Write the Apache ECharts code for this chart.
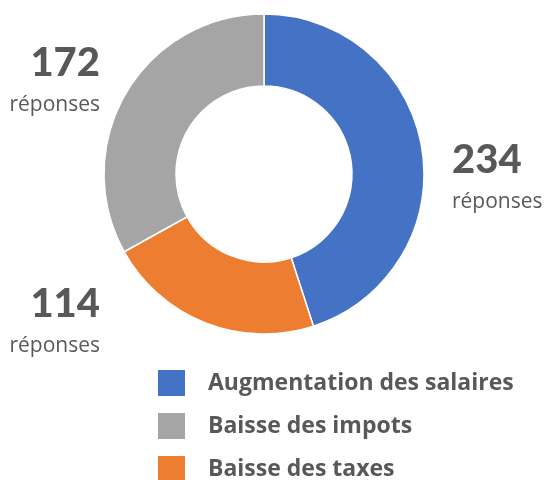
<!DOCTYPE html>
<html>
<head>
<meta charset="utf-8">
<script src="https://cdn.jsdelivr.net/npm/echarts@6/dist/echarts.min.js"></script>
<style>
html,body{margin:0;padding:0;background:#fff;}
#main{width:544px;height:480px;}
</style>
</head>
<body>
<div id="main"></div>
<script>
// Data
const categories = ['Augmentation des salaires', 'Baisse des taxes', 'Baisse des impots'];
const values = [234, 114, 172];
const colors = ['#4472C4', '#ED7D31', '#A5A5A5'];
const legendOrder = ['Augmentation des salaires', 'Baisse des impots', 'Baisse des taxes'];
const unitLabel = 'réponses';

const labelPos = [
  { x: 452, y: 137, align: 'left' },
  { x: 100, y: 281, align: 'right' },
  { x: 100, y: 40, align: 'right' }
];

const chart = echarts.init(document.getElementById('main'));
chart.setOption({
  animation: false,
  color: colors,
  legend: {
    orient: 'vertical',
    left: 156,
    top: 368,
    height: 200,
    padding: 0,
    itemWidth: 29,
    itemHeight: 28,
    itemGap: 13,
    icon: 'rect',
    data: legendOrder,
    textStyle: {
      fontFamily: 'Open Sans',
      fontWeight: 'bold',
      fontSize: 23,
      color: '#57585a',
      padding: [0, 0, 0, 17]
    }
  },
  series: [{
    type: 'pie',
    center: [264, 174],
    radius: [88, 160],
    startAngle: 90,
    clockwise: true,
    itemStyle: { borderColor: '#fff', borderWidth: 1.5 },
    labelLine: { show: false },
    label: {
      show: true,
      position: 'outside',
      overflow: 'none',
      formatter: function (p) { return '{v|' + p.value + '}\n{r|' + unitLabel + '}'; },
      rich: {
        v: { fontFamily: 'Lato', fontWeight: 900, fontSize: 40, lineHeight: 46, color: '#57585a' },
        r: { fontFamily: 'Open Sans', fontSize: 21, lineHeight: 38, color: '#57585a' }
      }
    },
    labelLayout: function (params) {
      const p = labelPos[params.dataIndex];
      return { x: p.x, y: p.y, align: p.align, verticalAlign: 'top' };
    },
    emphasis: { disabled: true },
    data: categories.map((c, i) => ({ name: c, value: values[i] }))
  }]
});
</script>
</body>
</html>
